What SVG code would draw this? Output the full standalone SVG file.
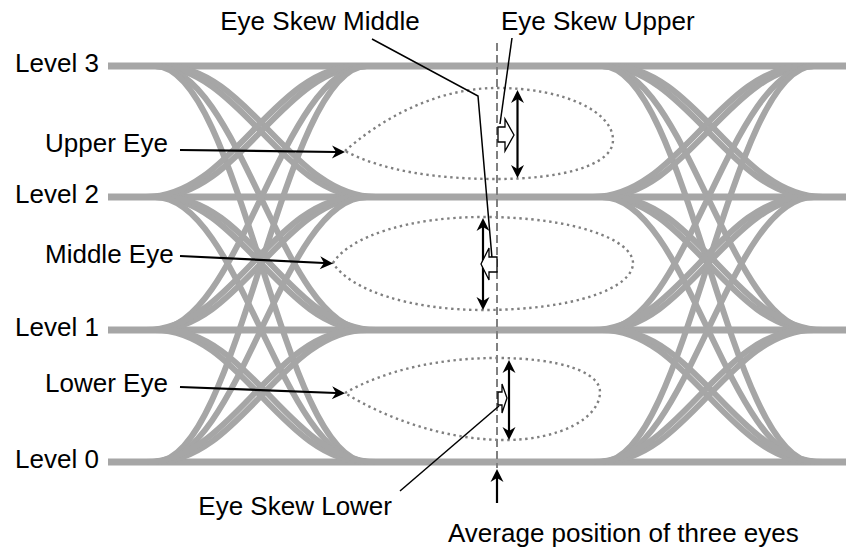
<svg xmlns="http://www.w3.org/2000/svg" xmlns:xlink="http://www.w3.org/1999/xlink" width="846" height="551" viewBox="0 0 846 551">
<style>
  .lvl { stroke:#a6a6a6; stroke-width:7; fill:none; }
  .tr { stroke:#a6a6a6; stroke-width:6; fill:none; }
  .eye { stroke:#808080; stroke-width:2.4; stroke-dasharray:2.4 3.6; fill:none; }
  .avg { stroke:#808080; stroke-width:2; stroke-dasharray:8 4; fill:none; }
  .lbl { font-family:"Liberation Sans", Arial, sans-serif; font-size:26px; fill:#000; }
  .arr { stroke:#000; stroke-width:2.2; fill:none; marker-end:url(#ah); }
  .dbl { stroke:#000; stroke-width:2.2; fill:none; marker-start:url(#ah); marker-end:url(#ah); }
  .lead { stroke:#000; stroke-width:1.5; fill:none; }
  .hollow { stroke:#000; stroke-width:1.3; fill:#fff; }
</style>
<defs>
  <marker id="ah" viewBox="-5 -7 15 14" markerWidth="15" markerHeight="14" refX="0" refY="0" markerUnits="userSpaceOnUse" orient="auto-start-reverse">
    <path d="M0,0 L-4,-6.5 L9,0 L-4,6.5 Z" fill="#000"/>
  </marker>
  <g id="crossing">
    <path class="tr" d="M155,66 C240,66 282,197 367,197"/>
    <path class="tr" d="M164,66 C249,66 291,197 376,197"/>
    <path class="tr" d="M155,66 C240,66 282,330 367,330"/>
    <path class="tr" d="M155,66 C240,66 282,462 367,462"/>
    <path class="tr" d="M155,197 C240,197 282,66 367,66"/>
    <path class="tr" d="M146,197 C231,197 273,66 358,66"/>
    <path class="tr" d="M155,197 C240,197 282,330 367,330"/>
    <path class="tr" d="M164,197 C249,197 291,330 376,330"/>
    <path class="tr" d="M155,197 C240,197 282,462 367,462"/>
    <path class="tr" d="M155,330 C240,330 282,66 367,66"/>
    <path class="tr" d="M155,330 C240,330 282,197 367,197"/>
    <path class="tr" d="M146,330 C231,330 273,197 358,197"/>
    <path class="tr" d="M155,330 C240,330 282,462 367,462"/>
    <path class="tr" d="M164,330 C249,330 291,462 376,462"/>
    <path class="tr" d="M155,462 C240,462 282,66 367,66"/>
    <path class="tr" d="M155,462 C240,462 282,197 367,197"/>
    <path class="tr" d="M155,462 C240,462 282,330 367,330"/>
    <path class="tr" d="M146,462 C231,462 273,330 358,330"/>
  </g>
</defs>

<g id="traces">
  <line class="lvl" x1="108" y1="66" x2="846" y2="66"/>
  <line class="lvl" x1="108" y1="197" x2="846" y2="197"/>
  <line class="lvl" x1="108" y1="330" x2="846" y2="330"/>
  <line class="lvl" x1="108" y1="462" x2="846" y2="462"/>
  <use xlink:href="#crossing" href="#crossing"/>
  <use xlink:href="#crossing" href="#crossing" x="447"/>
</g>

<g id="upper-eye">
  <path class="eye" d="M345,151 C380,120 435,88 497,88 C565,88 613,112 613,140 C613,166 560,179 497,179 C440,179 385,172 345,151 Z"/>
</g>
<g id="middle-eye">
  <path class="eye" d="M333,263 C350,236 410,217 483,217 C575,217 633,240 633,263 C633,288 575,310 483,310 C410,310 350,290 333,263 Z"/>
</g>
<g id="lower-eye">
  <path class="eye" d="M345,393 C385,370 440,358 497,358 C560,358 600,372 600,392 C600,418 560,440 505,440 C445,440 385,418 345,393 Z"/>
</g>

<g id="average-line">
  <line class="avg" x1="497" y1="43" x2="497" y2="468"/>
</g>

<g id="connectors">
  <line class="arr" x1="180" y1="150" x2="336" y2="152"/>
  <line class="arr" x1="180" y1="256" x2="324" y2="263"/>
  <line class="arr" x1="180" y1="387" x2="336" y2="393"/>
  <line class="dbl" x1="517.5" y1="99" x2="517.5" y2="169"/>
  <line class="dbl" x1="483" y1="227" x2="483" y2="301"/>
  <line class="dbl" x1="509" y1="369" x2="509" y2="431"/>
  <line class="arr" x1="497" y1="503" x2="497" y2="478"/>
  <polyline class="lead" points="372,39 478,96 492,258"/>
  <line class="lead" x1="512" y1="38" x2="500" y2="124"/>
  <line class="lead" x1="400" y1="491" x2="499" y2="406"/>
  <path class="hollow" d="M498,127 L505,127 L505,119 L514,135 L505,151 L505,142 L498,142 Z"/>
  <path class="hollow" d="M497,257 L489,257 L489,248 L481,264 L489,280 L489,272 L497,272 Z"/>
  <path class="hollow" d="M498,392 L502,392 L502,384 L507,398 L502,413 L502,405 L498,405 Z"/>
</g>

<g id="labels">
  <text class="lbl" x="15" y="72">Level 3</text>
  <text class="lbl" x="15" y="203">Level 2</text>
  <text class="lbl" x="15" y="336">Level 1</text>
  <text class="lbl" x="15" y="468">Level 0</text>
  <text class="lbl" x="45" y="152">Upper Eye</text>
  <text class="lbl" x="45" y="263">Middle Eye</text>
  <text class="lbl" x="45" y="392">Lower Eye</text>
  <text class="lbl" x="320" y="30" text-anchor="middle">Eye Skew Middle</text>
  <text class="lbl" x="501" y="30">Eye Skew Upper</text>
  <text class="lbl" x="392" y="515" text-anchor="end">Eye Skew Lower</text>
  <text class="lbl" x="448" y="542">Average position of three eyes</text>
</g>
</svg>
